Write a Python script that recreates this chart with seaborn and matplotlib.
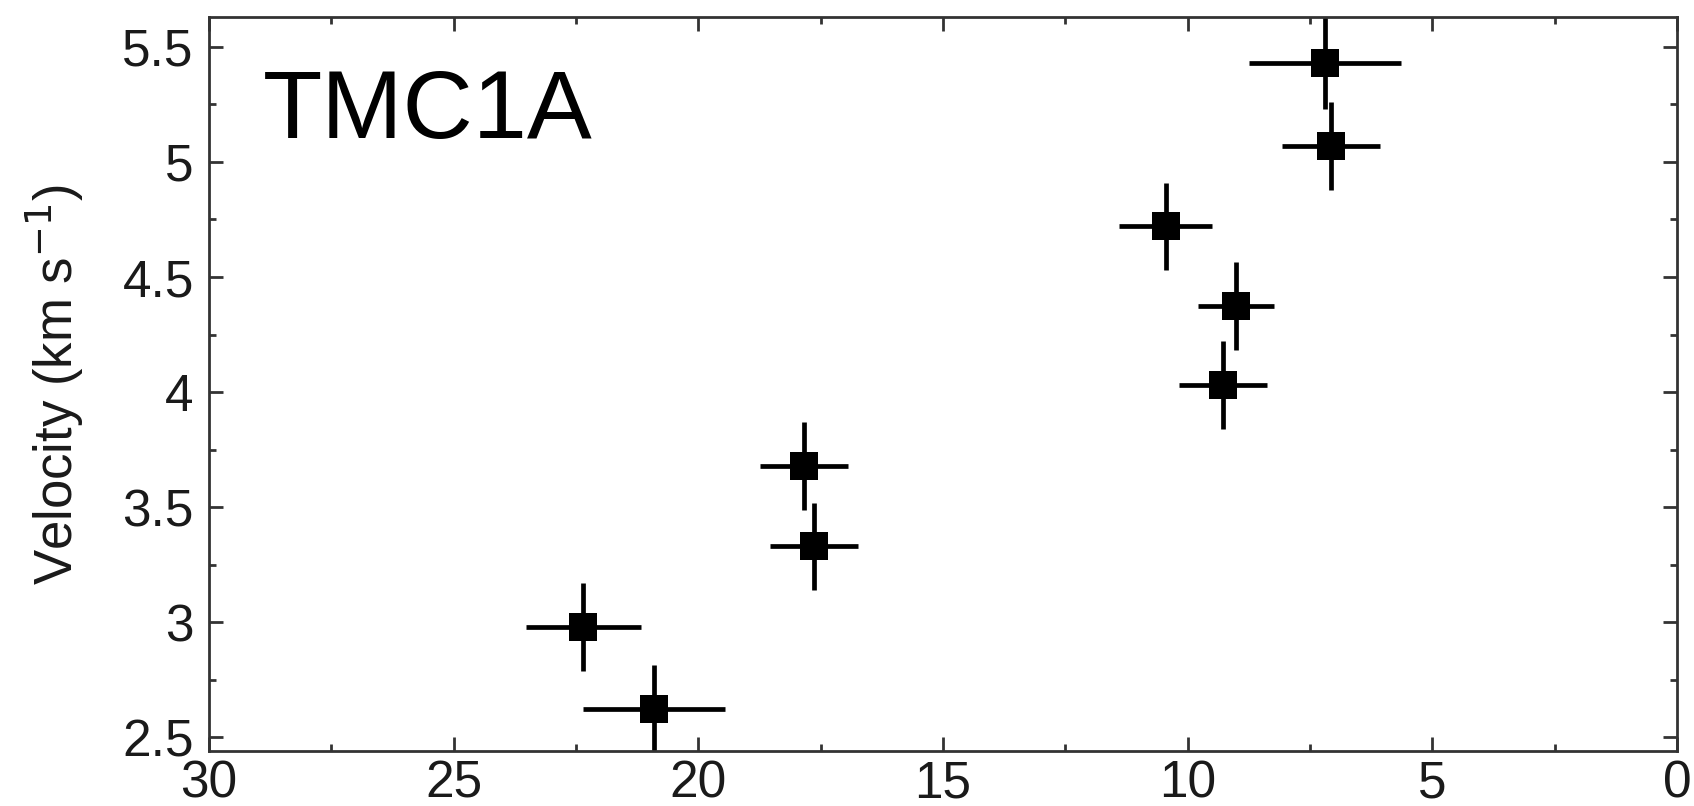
import numpy as np
import pandas as pd
import matplotlib
matplotlib.use("Agg")
import matplotlib.pyplot as plt
import seaborn as sns
from matplotlib.ticker import MultipleLocator

# Data
radius = [7.2, 7.07, 10.45, 9.02, 9.28, 17.85, 17.63, 20.9, 22.35]
velocity = [5.43, 5.07, 4.72, 4.375, 4.03, 3.68, 3.33, 2.625, 2.98]
radius_err = [1.55, 1.0, 0.95, 0.78, 0.9, 0.9, 0.9, 1.45, 1.18]
velocity_err = [0.2, 0.19, 0.19, 0.19, 0.19, 0.19, 0.19, 0.19, 0.19]
x_ticks = [30, 25, 20, 15, 10, 5, 0]
y_ticks = [2.5, 3, 3.5, 4, 4.5, 5, 5.5]
y_tick_labels = ["2.5", "3", "3.5", "4", "4.5", "5", "5.5"]
label_text = "TMC1A"

sns.set_theme(style="ticks")
plt.rcParams['font.family'] = ['Liberation Sans', 'DejaVu Sans']

df = pd.DataFrame({"r": radius, "v": velocity})

fig = plt.figure(figsize=(16.94, 8.06), dpi=100)
ax = fig.add_axes([0.1234, 0.068, 0.8666, 0.911])

ax.errorbar(radius, velocity, xerr=radius_err, yerr=velocity_err, fmt='none',
            ecolor='black', elinewidth=3.4, capsize=0, zorder=2)
sns.scatterplot(data=df, x="r", y="v", marker='s', s=400, color='black',
                edgecolor='black', linewidth=0, ax=ax, zorder=3)

ax.set_xlim(30, 0)
ax.set_ylim(2.44, 5.63)
ax.set_xticks(x_ticks)
ax.set_yticks(y_ticks)
ax.set_yticklabels(y_tick_labels)
ax.xaxis.set_minor_locator(MultipleLocator(2.5))
ax.yaxis.set_minor_locator(MultipleLocator(0.25))
ax.tick_params(which='both', direction='in', top=True, right=True, color='#333333', width=2.0)
ax.tick_params(which='major', length=10, labelsize=37, labelcolor='#1a1a1a')
ax.tick_params(which='minor', length=5)
ax.tick_params(axis='y', which='major', pad=11)
ax.tick_params(axis='x', which='major', pad=6)
for s in ax.spines.values():
    s.set_linewidth(2.0)
    s.set_color('#333333')

ax.set_xlabel("")
ax.set_ylabel("Velocity (km s$^{-1}$)", fontsize=38, color='#1a1a1a', labelpad=26)

ax.text(0.0365, 0.835, label_text, transform=ax.transAxes, fontsize=70,
        color='black', ha='left', va='baseline', fontweight='light')

fig.savefig("out.png", dpi=100)
